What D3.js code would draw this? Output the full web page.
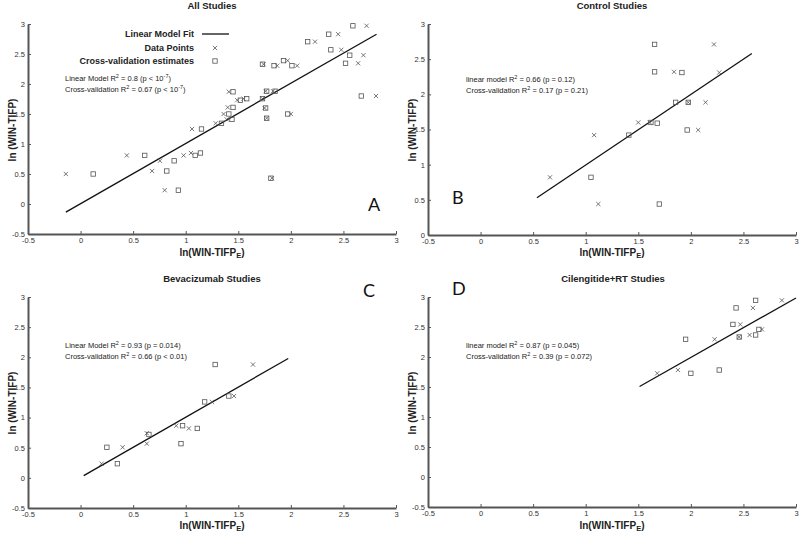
<!DOCTYPE html>
<html><head><meta charset="utf-8">
<script src="https://cdn.jsdelivr.net/npm/d3@7"></script>
<style>
body{margin:0;background:#fff;}
svg{display:block;font-family:"Liberation Sans",Arial,sans-serif;}
</style></head>
<body><svg id="c" width="800" height="533"></svg>
<script>
// ---------- DATA ----------
const xTicks = [-0.5, 0, 0.5, 1, 1.5, 2, 2.5, 3];
const yTicksFull = [-0.5, 0, 0.5, 1, 1.5, 2, 2.5, 3];
const yTicksB = [0, 0.5, 1, 1.5, 2, 2.5, 3];

// Panel A - All Studies
const aCrossX = [-0.14,0.44,0.68,0.755,0.80,0.98,1.05,1.06,1.285,1.39,1.36,1.40,1.41,1.49,1.55,1.73,1.74,1.76,1.83,1.75,1.77,1.82,2.00,1.87,1.97,2.06,2.23,2.45,2.48,2.64,2.69,2.72,2.81];
const aCrossY = [0.50,0.81,0.55,0.72,0.23,0.81,0.85,1.25,1.345,1.41,1.50,1.61,1.87,1.73,1.755,1.755,2.33,1.88,1.88,1.60,1.43,0.43,1.50,2.305,2.39,2.305,2.705,2.83,2.57,2.345,2.48,2.97,1.80];
const aSqX = [0.12,0.61,0.82,0.89,0.93,1.09,1.14,1.15,1.34,1.44,1.41,1.45,1.45,1.52,1.58,1.73,1.73,1.77,1.85,1.76,1.77,1.81,1.97,1.84,1.93,2.01,2.16,2.36,2.38,2.52,2.56,2.59,2.67];
const aSqY = aCrossY;
const aFitX = [-0.14, 2.815];
const aFitY = [-0.135, 2.83];

// Panel B - Control Studies
const bCrossX = [0.66,1.12,1.08,1.50,1.61,2.22,1.84,2.27,2.14,1.975,2.07];
const bCrossY = [0.82,0.44,1.42,1.60,1.60,2.71,2.32,2.31,1.886,1.886,1.493];
const bSqX = [1.05,1.70,1.41,1.62,1.68,1.655,1.655,1.915,1.855,1.975,1.965];
const bSqY = [0.82,0.44,1.42,1.60,1.59,2.71,2.32,2.31,1.886,1.886,1.493];
const bFitX = [0.536, 2.58];
const bFitY = [0.53, 2.58];

// Panel C - Bevacizumab Studies
const cCrossX = [0.20,0.40,0.63,0.63,0.91,1.03,1.25,1.46,1.64];
const cCrossY = [0.235,0.507,0.74,0.567,0.865,0.82,1.26,1.357,1.88];
const cSqX = [0.35,0.25,0.65,0.955,0.97,1.11,1.18,1.41,1.28];
const cSqY = [0.235,0.507,0.72,0.567,0.865,0.82,1.26,1.357,1.88];
const cFitX = [0.03, 1.975];
const cFitY = [0.036, 1.98];

// Panel D - Cilengitide+RT Studies
const dCrossX = [2.866,2.59,2.47,2.226,2.559,2.676,1.68,1.877,2.46];
const dCrossY = [2.944,2.818,2.543,2.295,2.367,2.46,1.728,1.783,2.333];
const dSqX = [2.616,2.43,2.40,1.95,2.616,2.647,2.0,2.27,2.46];
const dSqY = [2.944,2.818,2.543,2.295,2.367,2.46,1.728,1.783,2.333];
const dFitX = [1.512, 3.0];
const dFitY = [1.508, 2.983];

const titles = ["All Studies","Control Studies","Bevacizumab Studies","Cilengitide+RT Studies"];
const letters = ["A","B","C","D"];
const statsA = [["Linear Model R","2"," = 0.8 (p < 10","-7",")"],["Cross-validation R","2"," = 0.67 (p < 10","-7",")"]];
const statsB = [["linear model R","2"," = 0.66 (p = 0.12)"],["Cross-validation R","2"," = 0.17 (p = 0.21)"]];
const statsC = [["Linear Model R","2"," = 0.93 (p = 0.014)"],["Cross-validation R","2"," = 0.66 (p < 0.01)"]];
const statsD = [["linear model R","2"," = 0.87 (p = 0.045)"],["Cross-validation R","2"," = 0.39 (p = 0.072)"]];
const legendLabels = ["Linear Model Fit","Data Points","Cross-validation estimates"];

// ---------- DRAW ----------
const svg = d3.select("#c");
const AX = "#555", MK = "#555", TXT = "#222";

const panels = [
  {xr:[28,396], yr:[234,24], yd:[-0.5,3], yt:yTicksFull, cx:aCrossX, cy:aCrossY, sx:aSqX, sy:aSqY, fx:aFitX, fy:aFitY,
   title:titles[0], tpos:[212,9], letter:letters[0], lpos:[368,211], stats:statsA, spos:[65,81], ylab:[12,130], xlab:[212,256]},
  {xr:[428,796], yr:[235,24], yd:[0,3], yt:yTicksB, cx:bCrossX, cy:bCrossY, sx:bSqX, sy:bSqY, fx:bFitX, fy:bFitY,
   title:titles[1], tpos:[612,9], letter:letters[1], lpos:[452,204], stats:statsB, spos:[466,82], ylab:[412,130], xlab:[612,256]},
  {xr:[28,396], yr:[508,297], yd:[-0.5,3], yt:yTicksFull, cx:cCrossX, cy:cCrossY, sx:cSqX, sy:cSqY, fx:cFitX, fy:cFitY,
   title:titles[2], tpos:[212,282], letter:letters[2], lpos:[363,297], stats:statsC, spos:[65,348], ylab:[12,403], xlab:[212,529]},
  {xr:[428,796], yr:[507,297], yd:[-0.5,3], yt:yTicksFull, cx:dCrossX, cy:dCrossY, sx:dSqX, sy:dSqY, fx:dFitX, fy:dFitY,
   title:titles[3], tpos:[613,282], letter:letters[3], lpos:[452,295], stats:statsD, spos:[466,348], ylab:[412,403], xlab:[612,529]}
];

function crossPath(x,y,r){return `M${x-r},${y-r}L${x+r},${y+r}M${x-r},${y+r}L${x+r},${y-r}`;}

panels.forEach(p => {
  const x = d3.scaleLinear().domain([-0.5,3]).range(p.xr);
  const y = d3.scaleLinear().domain(p.yd).range(p.yr);
  const g = svg.append("g");

  const xa = g.append("g").attr("transform",`translate(0,${p.yr[0]})`)
    .call(d3.axisBottom(x).tickValues(xTicks).tickFormat(d=>String(d)).tickSizeInner(-3).tickSizeOuter(0).tickPadding(4));
  const ya = g.append("g").attr("transform",`translate(${p.xr[0]},0)`)
    .call(d3.axisLeft(y).tickValues(p.yt).tickFormat(d=>String(d)).tickSizeInner(-3).tickSizeOuter(0).tickPadding(3));
  [xa,ya].forEach(a=>{
    a.select(".domain").attr("stroke",AX).attr("stroke-width",2);
    a.selectAll(".tick line").attr("stroke",AX).attr("stroke-width",1);
    a.selectAll(".tick text").attr("fill","#333").style("font-size","7.5px").style("font-family","Liberation Sans, Arial, sans-serif");
  });

  // fit line
  g.append("line").attr("x1",x(p.fx[0])).attr("y1",y(p.fy[0])).attr("x2",x(p.fx[1])).attr("y2",y(p.fy[1]))
    .attr("stroke","#111").attr("stroke-width",1.3);

  // squares
  g.selectAll(".sq").data(p.sx.map((v,i)=>[v,p.sy[i]])).join("rect")
    .attr("x",d=>x(d[0])-2.2).attr("y",d=>y(d[1])-2.2).attr("width",4.4).attr("height",4.4)
    .attr("fill","none").attr("stroke",MK).attr("stroke-width",0.8);
  // crosses
  g.selectAll(".cr").data(p.cx.map((v,i)=>[v,p.cy[i]])).join("path")
    .attr("d",d=>crossPath(x(d[0]),y(d[1]),2.1))
    .attr("fill","none").attr("stroke",MK).attr("stroke-width",0.8);

  // title
  g.append("text").attr("x",p.tpos[0]).attr("y",p.tpos[1]).attr("text-anchor","middle")
    .attr("font-weight","bold").attr("font-size","9.5px").attr("fill",TXT).text(p.title);
  // letter
  g.append("text").attr("x",p.lpos[0]).attr("y",p.lpos[1]).attr("font-size","18px")
    .style("font-family","Lato, 'Open Sans', sans-serif").attr("fill","#111").text(p.letter);
  // stats
  p.stats.forEach((parts,i)=>{
    const t = g.append("text").attr("x",p.spos[0]).attr("y",p.spos[1]+i*10.5).attr("font-size","7.5px").attr("fill",TXT);
    parts.forEach((s,j)=>{
      const ts = t.append("tspan").text(s);
      if (j%2===1) ts.attr("baseline-shift","super").attr("font-size","5.5px");
    });
  });
  // y label
  g.append("text").attr("transform",`translate(${p.ylab[0]},${p.ylab[1]}) rotate(-90)`)
    .attr("text-anchor","middle").attr("dy","0.35em").attr("font-weight","bold").attr("font-size","10px").attr("fill",TXT)
    .text("ln (WIN-TIFP)");
  // x label
  const xl = g.append("text").attr("x",p.xlab[0]).attr("y",p.xlab[1]).attr("text-anchor","middle")
    .attr("font-weight","bold").attr("font-size","10px").attr("fill",TXT);
  xl.append("tspan").text("ln(WIN-TIFP");
  xl.append("tspan").attr("baseline-shift","-2").attr("font-size","7.5px").text("E");
  xl.append("tspan").text(")");
});

// legend in panel A
const lg = svg.append("g");
const lx = 194, ly = [37,51,64];
legendLabels.forEach((s,i)=>{
  lg.append("text").attr("x",lx).attr("y",ly[i]).attr("text-anchor","end").attr("font-weight","bold")
    .attr("font-size","9px").attr("fill",TXT).text(s);
});
lg.append("line").attr("x1",202).attr("x2",229).attr("y1",34).attr("y2",34).attr("stroke","#111").attr("stroke-width",1.3);
lg.append("path").attr("d",crossPath(215,48,2.1)).attr("stroke",MK).attr("stroke-width",0.8).attr("fill","none");
lg.append("rect").attr("x",215-2.2).attr("y",61-2.2).attr("width",4.4).attr("height",4.4).attr("fill","none").attr("stroke",MK).attr("stroke-width",0.8);
</script></body></html>
